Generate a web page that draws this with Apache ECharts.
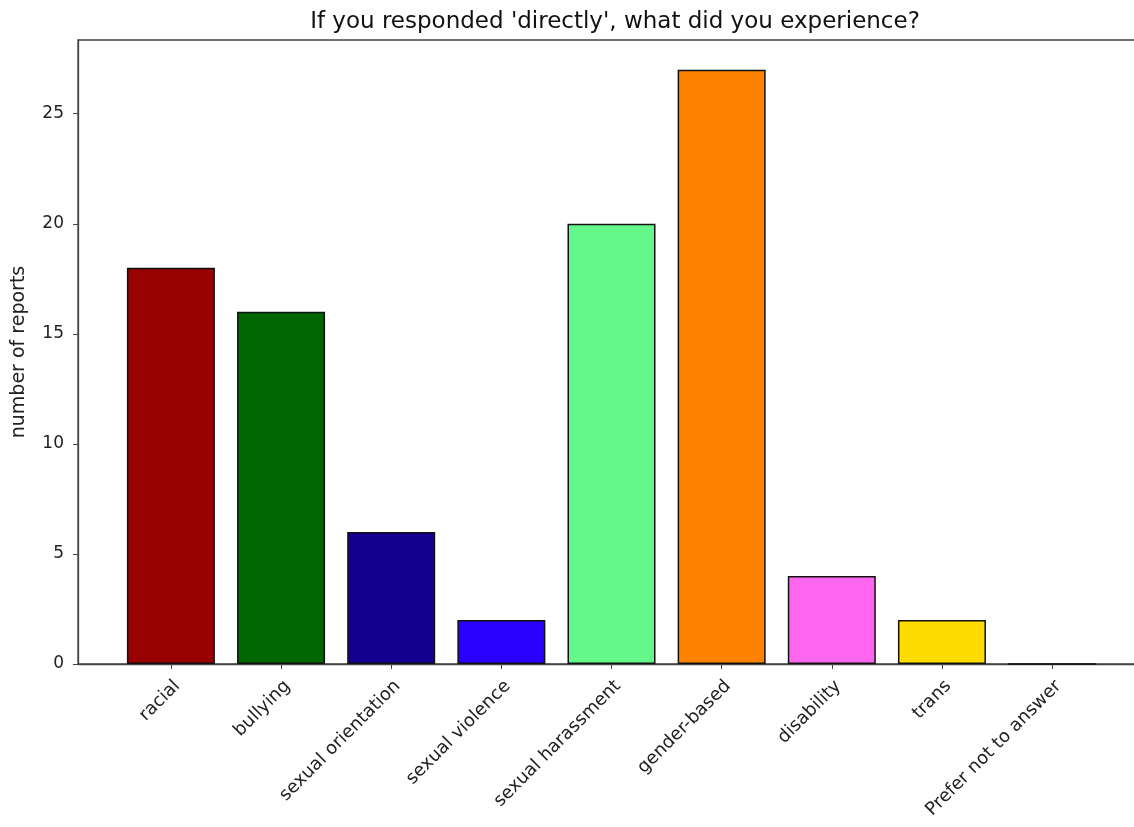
<!DOCTYPE html>
<html>
<head>
<meta charset="utf-8">
<script src="https://cdn.jsdelivr.net/npm/echarts@6/dist/echarts.min.js"></script>
<style>
html,body{margin:0;padding:0;background:#fff;overflow:hidden;}
#chart{width:1145px;height:827px;}
</style>
</head>
<body>
<div id="chart"></div>
<script>
const categories = ["racial", "bullying", "sexual orientation", "sexual violence", "sexual harassment", "gender-based", "disability", "trans", "Prefer not to answer"];
const values = [18, 16, 6, 2, 20, 27, 4, 2, 0];
const colors = ["#990000", "#006600", "#130090", "#2A00FF", "#64F78A", "#FF8300", "#FF66F0", "#FFDC00", "#888888"];
const yTicks = [0, 5, 10, 15, 20, 25];

const chart = echarts.init(document.getElementById('chart'));
const font = "DejaVu Sans";
const xIdx = categories.map((c, i) => i);
chart.setOption({
  animation: false,
  title: {
    text: "If you responded 'directly', what did you experience?",
    left: 610, top: 6, textAlign: 'center',
    textStyle: {fontFamily: font, fontSize: 23, fontWeight: 'normal', color: '#111'}
  },
  grid: {left: 78, right: 0, top: 40, bottom: 163, show: true, borderColor: '#444', borderWidth: 1.3},
  xAxis: {
    type: 'value', min: -0.8435, max: 8.8435,
    splitLine: {show: false},
    axisLine: {show: true, onZero: false, lineStyle: {color: '#444', width: 1.3}},
    axisTick: {show: true, length: 5, customValues: xIdx, lineStyle: {color: '#444'}},
    axisLabel: {
      customValues: xIdx, rotate: 45, margin: 13, verticalAlign: 'top',
      fontFamily: font, fontSize: 18, color: '#222',
      formatter: v => categories[Math.round(v)]
    }
  },
  yAxis: {
    type: 'value', min: 0, max: 28.35,
    name: 'number of reports', nameLocation: 'middle', nameRotate: 90, nameGap: 49,
    nameTextStyle: {fontFamily: font, fontSize: 19, color: '#222'},
    splitLine: {show: false},
    axisLine: {show: true, onZero: false, lineStyle: {color: '#444', width: 1.3}},
    axisTick: {show: true, length: 5, customValues: yTicks, lineStyle: {color: '#444'}},
    axisLabel: {customValues: yTicks, margin: 14, fontFamily: font, fontSize: 17, color: '#222'}
  },
  series: [{
    type: 'bar',
    barWidth: 88,
    data: values.map((v, i) => ({value: [i, v], itemStyle: {color: colors[i], borderColor: '#111', borderWidth: 1.5}}))
  }]
});
</script>
</body>
</html>
